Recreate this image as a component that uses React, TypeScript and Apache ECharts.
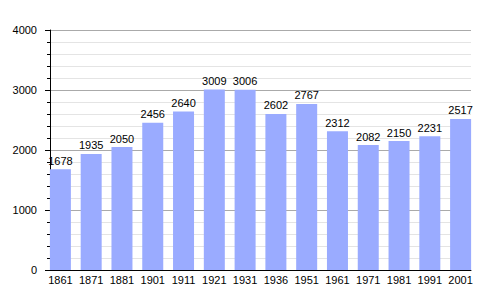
import React, { useEffect, useRef } from "react";
import * as echarts from "echarts";

const years = ["1861", "1871", "1881", "1901", "1911", "1921", "1931", "1936", "1951", "1961", "1971", "1981", "1991", "2001"];
const population = [1678, 1935, 2050, 2456, 2640, 3009, 3006, 2602, 2767, 2312, 2082, 2150, 2231, 2517];
const yMin = 0;
const yMax = 4000;
const yStep = 1000;

export default function App() {
  const ref = useRef<HTMLDivElement>(null);
  useEffect(() => {
    if (!ref.current) return;
    const chart = echarts.init(ref.current, null, { renderer: "svg" });
    const font = "Liberation Sans, Arial, sans-serif";
    chart.setOption({
      animation: false,
      backgroundColor: "#ffffff",
      grid: [
        { left: 50, right: 29, top: 30, bottom: 30 },
        { left: 45, right: 24, top: 30, bottom: 30 },
      ],
      xAxis: [
        {
          gridIndex: 0,
          type: "category",
          data: years,
          axisLine: { lineStyle: { color: "#000", width: 1 } },
          axisTick: { show: false },
          axisLabel: { show: false },
        },
        {
          gridIndex: 1,
          type: "category",
          data: years,
          axisLine: { show: false },
          axisTick: { show: false },
          axisLabel: { color: "#000", fontSize: 11, fontFamily: font, margin: 4, interval: 0 },
        },
      ],
      yAxis: [
        {
          gridIndex: 0,
          type: "value",
          min: yMin,
          max: yMax,
          interval: yStep,
          axisLine: { show: true, lineStyle: { color: "#000", width: 1 } },
          axisTick: { show: true, length: 5, lineStyle: { color: "#000" } },
          minorTick: { show: true, splitNumber: 5, length: 3, lineStyle: { color: "#000" } },
          axisLabel: {
            color: "#000",
            fontSize: 11,
            fontFamily: font,
            margin: 13,
            formatter: (v: number) => String(v),
          },
          splitLine: { show: true, lineStyle: { color: "#aaaaaa", width: 1 } },
          minorSplitLine: { show: true, lineStyle: { color: "#e4e4e4", width: 1 } },
        },
        {
          gridIndex: 1,
          type: "value",
          min: yMin,
          max: yMax,
          interval: yStep,
          show: false,
          splitLine: { show: false },
        },
      ],
      series: [
        {
          type: "bar",
          xAxisIndex: 1,
          yAxisIndex: 1,
          data: population,
          barWidth: 21,
          itemStyle: { color: "#9aabff" },
          label: {
            show: true,
            position: "top",
            distance: 3,
            color: "#000",
            fontSize: 11,
            fontFamily: font,
          },
        },
      ],
    });
    return () => chart.dispose();
  }, []);
  return <div ref={ref} style={{ width: 500, height: 300, position: "absolute", left: 0, top: 0 }} />;
}
